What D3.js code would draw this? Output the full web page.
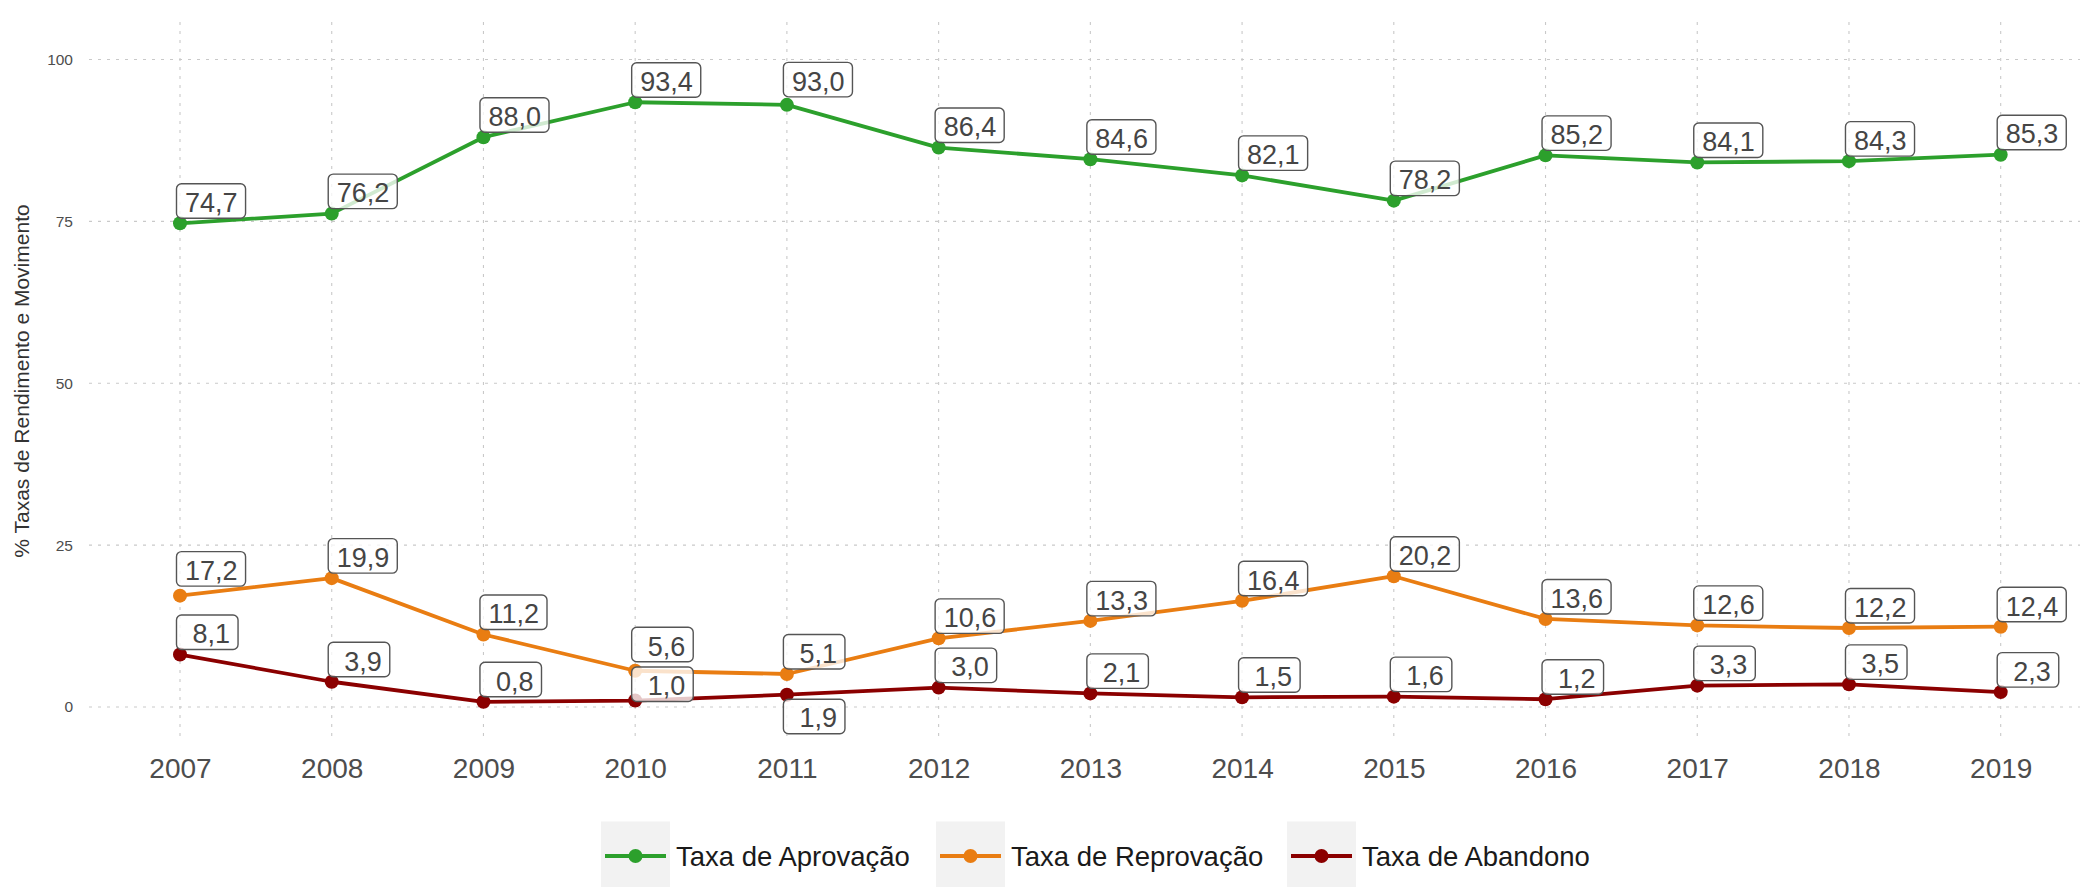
<!DOCTYPE html>
<html>
<head>
<meta charset="utf-8">
<script src="https://cdn.jsdelivr.net/npm/d3@7"></script>
<style>
  html, body { margin: 0; padding: 0; background: #ffffff; }
  svg { display: block; font-family: "Liberation Sans", Arial, Helvetica, sans-serif; }
</style>
</head>
<body>
<svg id="chart" width="2080" height="887"></svg>
<script>
// Yearly school performance rates (%)
const years = [2007, 2008, 2009, 2010, 2011, 2012, 2013, 2014, 2015, 2016, 2017, 2018, 2019];
const aprovacao  = [74.7, 76.2, 88.0, 93.4, 93.0, 86.4, 84.6, 82.1, 78.2, 85.2, 84.1, 84.3, 85.3];
const reprovacao = [17.2, 19.9, 11.2, 5.6, 5.1, 10.6, 13.3, 16.4, 20.2, 13.6, 12.6, 12.2, 12.4];
const abandono   = [8.1, 3.9, 0.8, 1.0, 1.9, 3.0, 2.1, 1.5, 1.6, 1.2, 3.3, 3.5, 2.3];
const seriesNames = ["Taxa de Aprovação", "Taxa de Reprovação", "Taxa de Abandono"];
const yTicks = [0, 25, 50, 75, 100];
const yTitle = "% Taxas de Rendimento e Movimento";

const seriesColors = ["#2ca02c", "#e97d12", "#8b0000"];
const seriesValues = [aprovacao, reprovacao, abandono];

// Vertical shift of a few value boxes so they don't collide
const labelNudge = {
  "Taxa de Reprovação|2007": -4.5,
  "Taxa de Aprovação|2011": -3,
  "Taxa de Reprovação|2010": -4,
  "Taxa de Abandono|2010": 6,
  "Taxa de Abandono|2011": 44
};

const svg = d3.select("#chart");
const panel = { left: 89, right: 2080, top: 22, bottom: 740 };

const x = d3.scaleLinear().domain([2007, 2019]).range([180, 2000.7]);
const y = d3.scaleLinear().domain([0, 100]).range([707, 59.5]);

const series = seriesNames.map((name, i) => ({
  name,
  color: seriesColors[i],
  points: years.map((yr, j) => ({ year: yr, value: seriesValues[i][j], name }))
}));

// Grid
const grid = svg.append("g").attr("class", "grid");
grid.selectAll("line.h").data(yTicks).join("line")
  .attr("class", "h")
  .attr("x1", panel.left).attr("x2", panel.right)
  .attr("y1", d => y(d)).attr("y2", d => y(d))
  .attr("stroke", "#c9c9c9").attr("stroke-width", 1.1)
  .attr("stroke-dasharray", "3,6");
grid.selectAll("line.v").data(years).join("line")
  .attr("class", "v")
  .attr("y1", panel.top).attr("y2", panel.bottom)
  .attr("x1", d => x(d)).attr("x2", d => x(d))
  .attr("stroke", "#c9c9c9").attr("stroke-width", 1.1)
  .attr("stroke-dasharray", "3,6");

// Axes (ticks hidden, only labels)
const yAxis = d3.axisLeft(y).tickValues(yTicks).tickSize(0).tickPadding(0).tickFormat(d3.format("d"));
svg.append("g")
  .attr("transform", `translate(73,0)`)
  .call(yAxis)
  .call(g => g.select(".domain").remove())
  .call(g => g.selectAll("text")
    .attr("font-size", 15.5)
    .attr("fill", "#4d4d4d")
    .attr("font-family", "Liberation Sans, Arial, sans-serif"));

const xAxis = d3.axisBottom(x).tickValues(years).tickSize(0).tickPadding(0).tickFormat(d3.format("d"));
svg.append("g")
  .attr("transform", `translate(0,757)`)
  .call(xAxis)
  .call(g => g.select(".domain").remove())
  .call(g => g.selectAll("text")
    .attr("dy", 0)
    .attr("y", 21)
    .attr("font-size", 28)
    .attr("fill", "#4d4d4d")
    .attr("font-family", "Liberation Sans, Arial, sans-serif"));

// Y-axis title
svg.append("text")
  .attr("transform", `translate(29,${(panel.top + panel.bottom) / 2}) rotate(-90)`)
  .attr("text-anchor", "middle")
  .attr("font-size", 21)
  .attr("fill", "#333333")
  .text(yTitle);

// Lines and points
const line = d3.line().x(d => x(d.year)).y(d => y(d.value));
const sg = svg.append("g").selectAll("g.series").data(series).join("g").attr("class", "series");
sg.append("path")
  .attr("d", d => line(d.points))
  .attr("fill", "none")
  .attr("stroke", d => d.color)
  .attr("stroke-width", 3.8)
  .attr("stroke-linejoin", "round");
sg.selectAll("circle").data(d => d.points.map(p => ({ ...p, color: d.color }))).join("circle")
  .attr("cx", d => x(d.year))
  .attr("cy", d => y(d.value))
  .attr("r", 7)
  .attr("fill", d => d.color);

// Value boxes
const fmt = v => {
  const s = v.toFixed(1).replace(".", ",");
  return s.length < 4 ? "\u00A0".repeat(4 - s.length) + s : s;
};
const labelG = svg.append("g");
series.forEach(s => {
  s.points.forEach(p => {
    const px = x(p.year), py = y(p.value);
    const dy = labelNudge[`${p.name}|${p.year}`] || 0;
    const g = labelG.append("g");
    const rect = g.append("rect");
    const t = g.append("text")
      .attr("font-size", 27)
      .attr("fill", "#454545")
      .text(fmt(p.value));
    const tw = t.node().getComputedTextLength();
    const bw = tw + 16.5, bh = 34.5;
    const left = px - 3.5, bottom = py - 5 + dy;
    rect.attr("x", left).attr("y", bottom - bh)
      .attr("width", bw).attr("height", bh)
      .attr("rx", 5).attr("ry", 5)
      .attr("fill", "rgba(255,255,255,0.78)")
      .attr("stroke", "#555555").attr("stroke-width", 1.4);
    t.attr("x", left + 8.5).attr("y", bottom - 6.2);
  });
});

// Legend
const legend = svg.append("g");
const keyW = 69, keyH = 69;
const legendItems = [
  { name: seriesNames[0], color: seriesColors[0], keyX: 601 },
  { name: seriesNames[1], color: seriesColors[1], keyX: 936 },
  { name: seriesNames[2], color: seriesColors[2], keyX: 1287 }
];
const legendCY = 856;
legendItems.forEach(it => {
  const g = legend.append("g");
  g.append("rect")
    .attr("x", it.keyX).attr("y", legendCY - keyH / 2)
    .attr("width", keyW).attr("height", keyH)
    .attr("fill", "#f2f2f2");
  g.append("line")
    .attr("x1", it.keyX + 4).attr("x2", it.keyX + keyW - 4)
    .attr("y1", legendCY).attr("y2", legendCY)
    .attr("stroke", it.color).attr("stroke-width", 3.8);
  g.append("circle")
    .attr("cx", it.keyX + keyW / 2).attr("cy", legendCY).attr("r", 7)
    .attr("fill", it.color);
  g.append("text")
    .attr("x", it.keyX + keyW + 6)
    .attr("y", legendCY)
    .attr("dy", "0.35em")
    .attr("font-size", 27.5)
    .attr("fill", "#1a1a1a")
    .text(it.name);
});
</script>
</body>
</html>
